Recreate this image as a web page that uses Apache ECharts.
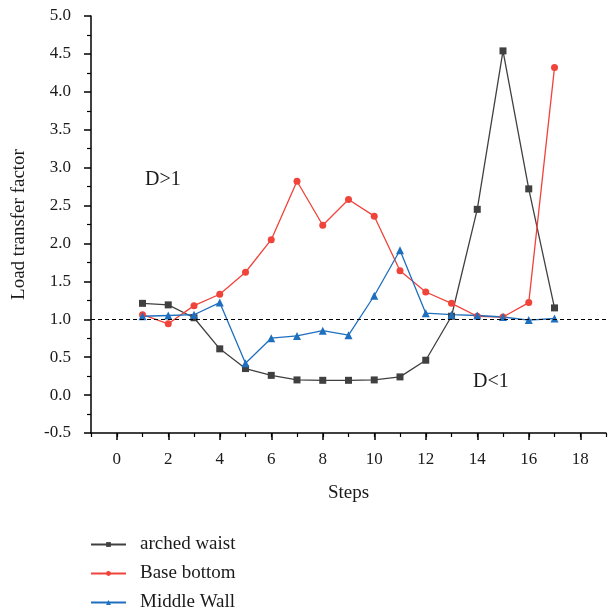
<!DOCTYPE html>
<html>
<head>
<meta charset="utf-8">
<script src="https://cdn.jsdelivr.net/npm/echarts@6/dist/echarts.min.js"></script>
<style>html,body{margin:0;padding:0;background:#fff;}#chart{width:609px;height:612px;}</style>
</head>
<body>
<div id="chart"></div>
<script>
var steps = [1,2,3,4,5,6,7,8,9,10,11,12,13,14,15,16,17];
var archedWaist = [1.21,1.19,1.02,0.61,0.35,0.26,0.20,0.195,0.195,0.20,0.24,0.46,1.04,2.45,4.54,2.72,1.15];
var baseBottom = [1.06,0.94,1.18,1.33,1.62,2.05,2.82,2.24,2.58,2.36,1.64,1.36,1.21,1.04,1.03,1.22,4.32];
var middleWall = [1.04,1.05,1.06,1.22,0.42,0.75,0.78,0.85,0.79,1.31,1.91,1.08,1.06,1.05,1.03,0.99,1.01];
var xMajorTicks = [0,2,4,6,8,10,12,14,16,18];
var seriesNames = ['arched waist','Base bottom','Middle Wall'];
var colors = ['#404040','#f0433a','#1f6fbf'];

function pairs(vals){ return steps.map(function(s,i){ return [s, vals[i]]; }); }

var FONT = 'Liberation Serif';
var TXT = '#1a1a1a';
var chart = echarts.init(document.getElementById('chart'), null, {renderer:'canvas'});
var axisLineStyle = {color:'#000', width:1.5};
chart.setOption({
  animation:false,
  backgroundColor:'#fff',
  textStyle:{fontFamily:FONT},
  grid:{left:91, right:1, top:16, bottom:179, containLabel:false},
  xAxis:[{
    type:'value', min:-1, max:19, interval:1,
    name:'Steps', nameLocation:'middle', nameGap:51,
    nameTextStyle:{fontFamily:FONT, fontSize:19, color:TXT},
    axisLine:{show:true, onZero:false, lineStyle:axisLineStyle},
    axisTick:{show:true, length:4, inside:false, lineStyle:{color:'#000', width:1.2}},
    axisLabel:{show:true, margin:18, fontFamily:FONT, fontSize:17, color:TXT,
      formatter:function(v){ return (Math.round(v)%2===0) ? String(v) : ''; }},
    splitLine:{show:false}
  },{
    type:'value', min:-1, max:19, position:'bottom', gridIndex:0,
    axisLine:{show:false, onZero:false},
    axisTick:{show:true, length:7, customValues:xMajorTicks, lineStyle:{color:'#000', width:1.5}},
    axisLabel:{show:false},
    splitLine:{show:false}
  }],
  yAxis:{
    type:'value', min:-0.5, max:5, interval:0.5,
    name:'Load transfer factor', nameLocation:'middle', nameGap:62, nameRotate:90,
    nameTextStyle:{fontFamily:FONT, fontSize:19, color:TXT},
    axisLine:{show:true, onZero:false, lineStyle:axisLineStyle},
    axisTick:{show:true, length:7, lineStyle:{color:'#000', width:1.5}},
    minorTick:{show:true, splitNumber:2, length:4, lineStyle:{color:'#000', width:1.2}},
    axisLabel:{margin:20, fontFamily:FONT, fontSize:17, color:TXT,
      formatter:function(v){ return v.toFixed(1); }},
    splitLine:{show:false}
  },
  legend:{
    orient:'vertical', left:90, top:535, height:77, padding:0,
    itemWidth:35, itemHeight:6, itemGap:10,
    data:seriesNames,
    textStyle:{fontFamily:FONT, fontSize:19, color:TXT, lineHeight:19, padding:[0,0,0,9]}
  },
  series:[
    {name:seriesNames[0], type:'line', data:pairs(archedWaist), symbol:'rect', symbolSize:7,
     itemStyle:{color:colors[0]}, lineStyle:{color:colors[0], width:1.3},
     markLine:{silent:true, symbol:['none','none'], label:{show:false},
       lineStyle:{color:'#000', type:[4,3], width:1}, data:[{yAxis:1}]}},
    {name:seriesNames[1], type:'line', data:pairs(baseBottom), symbol:'circle', symbolSize:7,
     itemStyle:{color:colors[1]}, lineStyle:{color:colors[1], width:1.3}},
    {name:seriesNames[2], type:'line', data:pairs(middleWall), symbol:'triangle', symbolSize:8,
     itemStyle:{color:colors[2]}, lineStyle:{color:colors[2], width:1.3}}
  ],
  graphic:[
    {type:'text', left:145, top:170, style:{text:'D>1', fontFamily:FONT, fontSize:20, fill:TXT}},
    {type:'text', left:473, top:372, style:{text:'D<1', fontFamily:FONT, fontSize:20, fill:TXT}}
  ]
});
</script>
</body>
</html>
